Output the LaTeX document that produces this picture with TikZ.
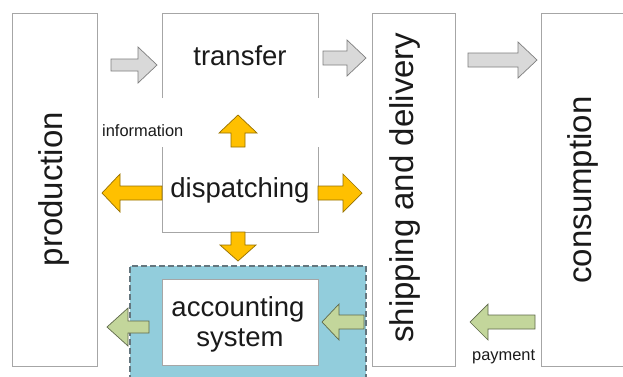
\documentclass[tikz,border=0pt]{standalone}
\usepackage{fontspec}
\setmainfont{Liberation Sans}
\definecolor{boxline}{HTML}{A6A6A6}
\definecolor{ink}{HTML}{1A1A1A}
\definecolor{acctblue}{RGB}{146,205,220}
\definecolor{acctdash}{RGB}{100,118,126}
\definecolor{flowgray}{HTML}{D9D9D9}
\definecolor{flowgrayline}{HTML}{7F7F7F}
\definecolor{infoyellow}{HTML}{FFC000}
\definecolor{infoyellowline}{RGB}{150,112,0}
\definecolor{paygreen}{RGB}{195,214,155}
\definecolor{paygreenline}{RGB}{95,105,75}

% horizontal block arrow: style, tail x, head-base x, tip x, centre y, shaft half, head half
\newcommand\hblock[7]{%
  \draw[#1] ({#2},{#5-#6}) -- ({#3},{#5-#6}) -- ({#3},{#5-#7}) -- ({#4},{#5})
    -- ({#3},{#5+#7}) -- ({#3},{#5+#6}) -- ({#2},{#5+#6}) -- cycle;}
% vertical block arrow: style, tail y, head-base y, tip y, centre x, shaft half, head half
\newcommand\vblock[7]{%
  \draw[#1] ({#5-#6},{#2}) -- ({#5-#6},{#3}) -- ({#5-#7},{#3}) -- ({#5},{#4})
    -- ({#5+#7},{#3}) -- ({#5+#6},{#3}) -- ({#5+#6},{#2}) -- cycle;}

\tikzset{
  stagebox/.style={draw=boxline, line width=0.8pt, fill=white, inner sep=0pt},
  bigtext/.style={text=ink, inner sep=0pt, font=\fontsize{33}{36}\selectfont},
  midtext/.style={text=ink, inner sep=0pt, font=\fontsize{27.5}{30}\selectfont},
  smalltext/.style={text=ink, inner sep=0pt, font=\fontsize{16.4}{18}\selectfont},
  goodsflow/.style={fill=flowgray, draw=flowgrayline, line width=0.7pt, line join=miter},
  infoflow/.style={fill=infoyellow, draw=infoyellowline, line width=0.7pt, line join=miter},
  payflow/.style={fill=paygreen, draw=paygreenline, line width=0.7pt, line join=miter},
}

\begin{document}
\begin{tikzpicture}[x=1pt, y=-1pt]
\useasboundingbox (0,0) rectangle (623,376);
\clip (0,0) rectangle (623,376);
\fill[white] (0,0) rectangle (623,376);

% stage columns
\node[stagebox, minimum width=85, minimum height=353] (prod) at (54.5,189.5) {};
\node[stagebox, minimum width=83, minimum height=353] (ship) at (413.5,189.5) {};
\draw[boxline, line width=0.8pt] (640,13) -| (541,366) -- (640,366);
\coordinate (cons) at (582,189.5);

% transfer / dispatching column, open at the information gap
\draw[boxline, line width=0.8pt] (162,98) |- (318,13) -- (318,98);
\draw[boxline, line width=0.8pt] (162,147) |- (318,232) -- (318,147);

% accounting area
\node[fill=acctblue, draw=acctdash, dashed, dash pattern=on 6pt off 3pt,
      line width=1.1pt, minimum width=236, minimum height=130, inner sep=0pt]
      (acctarea) at (248,331) {};
\node[stagebox, minimum width=156, minimum height=86] (acct) at (240,322) {};

% labels
\node[bigtext, rotate=90, anchor=base] (prodlabel) at (62,189) {production};
\node[bigtext, rotate=90, anchor=base] (shiplabel) at (413.5,187.5) {shipping and delivery};
\node[bigtext, rotate=90, anchor=base] (conslabel) at (591.5,190) {consumption};
\node[midtext, anchor=base] (transfer) at (240,65) {transfer};
\node[midtext, anchor=base] (dispatch) at (240,197) {dispatching};
\node[midtext, anchor=base] (acctline1) at (238,316) {accounting};
\node[midtext, anchor=base] (acctline2) at (240,346) {system};
\node[smalltext, anchor=base west] (info) at (102,136) {information};
\node[smalltext, anchor=base west] (payment) at (472,360) {payment};

% flow of goods
\hblock{goodsflow}{111}{138}{157}{65}{6}{18}
\hblock{goodsflow}{323}{347}{366}{58}{7}{18}
\hblock{goodsflow}{468}{518}{537}{60}{7}{18}

% flow of information from dispatching
\vblock{infoflow}{147}{133}{115}{238}{7}{19}
\hblock{infoflow}{162}{120}{102}{193}{7}{19}
\hblock{infoflow}{318}{343}{362}{193}{7}{19}
\vblock{infoflow}{232}{245}{261}{238}{7}{18}

% flow of payment
\hblock{payflow}{149}{128}{107}{327}{6}{19}
\hblock{payflow}{364}{339}{322}{322}{7}{18}
\hblock{payflow}{535}{488}{470}{322}{7}{18}
\end{tikzpicture}
\end{document}
